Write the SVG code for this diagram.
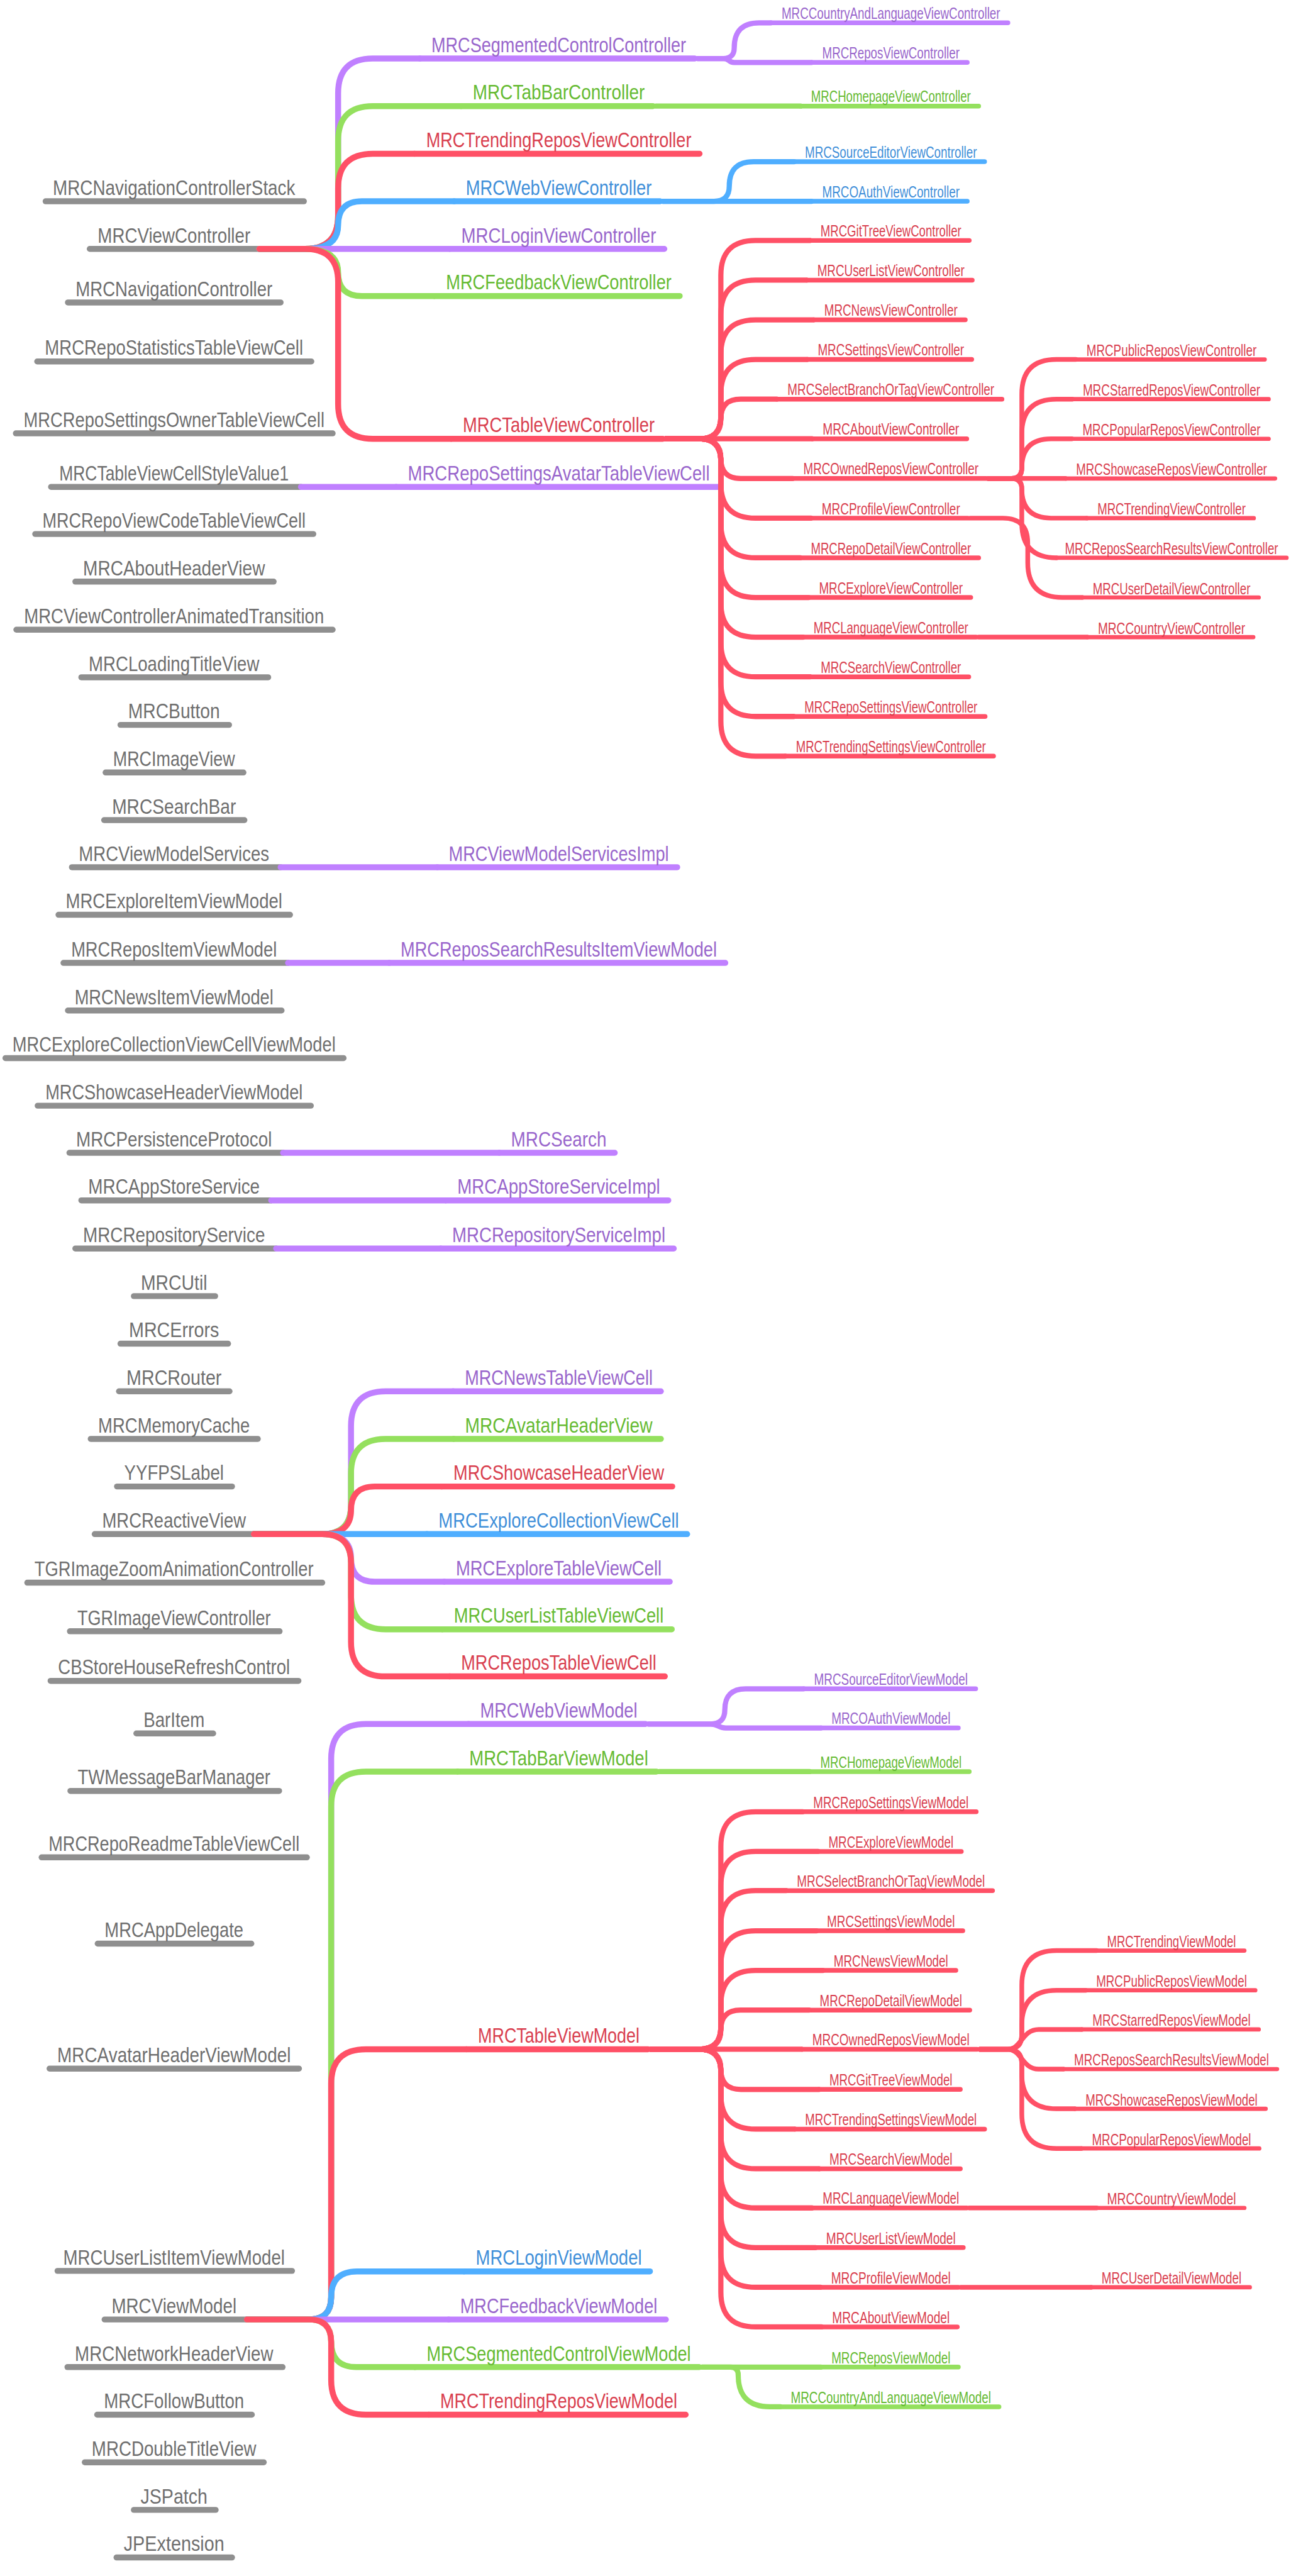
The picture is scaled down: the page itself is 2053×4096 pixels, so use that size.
<svg xmlns="http://www.w3.org/2000/svg" width="2053" height="4096" viewBox="0 0 2053 4096">
<style>
text{font-family:"Liberation Sans",Arial,sans-serif;text-anchor:middle}
.t0{font-size:42px;fill:#6f6f6f}
.t1{font-size:42px}
.t2{font-size:32px}
.tp{fill:#9966cc}.tg{fill:#66bb33}.tr{fill:#d9404f}.tb{fill:#3f8fd9}
line,path{fill:none;stroke-linecap:round;stroke-linejoin:round}
.k{stroke:#8f8f8f;stroke-width:12}
.p{stroke:#c080ff}.g{stroke:#94e05e}.r{stroke:#ff5066}.b{stroke:#4faeff}
.w1{stroke-width:12}.w2{stroke-width:9.5}.w3{stroke-width:8.5}
.c2{stroke-width:10.5}.c3{stroke-width:9.5}
</style>
<rect width="2053" height="4096" fill="#ffffff"/>
<g transform="scale(0.7884)">
<g id="roots">
<g id="n01"><line class="k" x1="92" y1="406" x2="613" y2="406"/><text class="t0" x="351" y="393" textLength="489" lengthAdjust="spacingAndGlyphs">MRCNavigationControllerStack</text></g>
<g id="n02"><line class="k" x1="181" y1="502" x2="523" y2="502"/><text class="t0" x="351" y="489" textLength="308" lengthAdjust="spacingAndGlyphs">MRCViewController</text></g>
<g id="n03"><line class="k" x1="137" y1="610" x2="566" y2="610"/><text class="t0" x="351" y="597" textLength="397" lengthAdjust="spacingAndGlyphs">MRCNavigationController</text></g>
<g id="n04"><line class="k" x1="75" y1="729" x2="628" y2="729"/><text class="t0" x="351" y="716" textLength="521" lengthAdjust="spacingAndGlyphs">MRCRepoStatisticsTableViewCell</text></g>
<g id="n05"><line class="k" x1="32" y1="874" x2="671" y2="874"/><text class="t0" x="351" y="861" textLength="607" lengthAdjust="spacingAndGlyphs">MRCRepoSettingsOwnerTableViewCell</text></g>
<g id="n06"><line class="k" x1="103" y1="982" x2="607" y2="982"/><text class="t0" x="351" y="969" textLength="463" lengthAdjust="spacingAndGlyphs">MRCTableViewCellStyleValue1</text></g>
<g id="n07"><line class="k" x1="71" y1="1077" x2="632" y2="1077"/><text class="t0" x="351" y="1064" textLength="531" lengthAdjust="spacingAndGlyphs">MRCRepoViewCodeTableViewCell</text></g>
<g id="n08"><line class="k" x1="152" y1="1173" x2="552" y2="1173"/><text class="t0" x="351" y="1160" textLength="367" lengthAdjust="spacingAndGlyphs">MRCAboutHeaderView</text></g>
<g id="n09"><line class="k" x1="33" y1="1270" x2="671" y2="1270"/><text class="t0" x="351" y="1257" textLength="605" lengthAdjust="spacingAndGlyphs">MRCViewControllerAnimatedTransition</text></g>
<g id="n10"><line class="k" x1="164" y1="1366" x2="541" y2="1366"/><text class="t0" x="351" y="1353" textLength="344" lengthAdjust="spacingAndGlyphs">MRCLoadingTitleView</text></g>
<g id="n11"><line class="k" x1="243" y1="1462" x2="462" y2="1462"/><text class="t0" x="351" y="1449" textLength="185" lengthAdjust="spacingAndGlyphs">MRCButton</text></g>
<g id="n12"><line class="k" x1="213" y1="1558" x2="491" y2="1558"/><text class="t0" x="351" y="1545" textLength="246" lengthAdjust="spacingAndGlyphs">MRCImageView</text></g>
<g id="n13"><line class="k" x1="210" y1="1654" x2="493" y2="1654"/><text class="t0" x="351" y="1641" textLength="250" lengthAdjust="spacingAndGlyphs">MRCSearchBar</text></g>
<g id="n14"><line class="k" x1="145" y1="1749" x2="566" y2="1749"/><text class="t0" x="351" y="1736" textLength="384" lengthAdjust="spacingAndGlyphs">MRCViewModelServices</text></g>
<g id="n15"><line class="k" x1="118" y1="1845" x2="585" y2="1845"/><text class="t0" x="351" y="1832" textLength="437" lengthAdjust="spacingAndGlyphs">MRCExploreItemViewModel</text></g>
<g id="n16"><line class="k" x1="128" y1="1942" x2="581" y2="1942"/><text class="t0" x="351" y="1929" textLength="415" lengthAdjust="spacingAndGlyphs">MRCReposItemViewModel</text></g>
<g id="n17"><line class="k" x1="137" y1="2038" x2="568" y2="2038"/><text class="t0" x="351" y="2025" textLength="401" lengthAdjust="spacingAndGlyphs">MRCNewsItemViewModel</text></g>
<g id="n18"><line class="k" x1="11" y1="2134" x2="693" y2="2134"/><text class="t0" x="351" y="2121" textLength="652" lengthAdjust="spacingAndGlyphs">MRCExploreCollectionViewCellViewModel</text></g>
<g id="n19"><line class="k" x1="76" y1="2230" x2="627" y2="2230"/><text class="t0" x="351" y="2217" textLength="519" lengthAdjust="spacingAndGlyphs">MRCShowcaseHeaderViewModel</text></g>
<g id="n20"><line class="k" x1="140" y1="2325" x2="571" y2="2325"/><text class="t0" x="351" y="2312" textLength="395" lengthAdjust="spacingAndGlyphs">MRCPersistenceProtocol</text></g>
<g id="n21"><line class="k" x1="164" y1="2421" x2="547" y2="2421"/><text class="t0" x="351" y="2408" textLength="346" lengthAdjust="spacingAndGlyphs">MRCAppStoreService</text></g>
<g id="n22"><line class="k" x1="152" y1="2518" x2="557" y2="2518"/><text class="t0" x="351" y="2505" textLength="367" lengthAdjust="spacingAndGlyphs">MRCRepositoryService</text></g>
<g id="n23"><line class="k" x1="270" y1="2614" x2="434" y2="2614"/><text class="t0" x="351" y="2601" textLength="134" lengthAdjust="spacingAndGlyphs">MRCUtil</text></g>
<g id="n24"><line class="k" x1="243" y1="2710" x2="460" y2="2710"/><text class="t0" x="351" y="2697" textLength="182" lengthAdjust="spacingAndGlyphs">MRCErrors</text></g>
<g id="n25"><line class="k" x1="240" y1="2806" x2="463" y2="2806"/><text class="t0" x="351" y="2793" textLength="192" lengthAdjust="spacingAndGlyphs">MRCRouter</text></g>
<g id="n26"><line class="k" x1="183" y1="2902" x2="520" y2="2902"/><text class="t0" x="351" y="2889" textLength="306" lengthAdjust="spacingAndGlyphs">MRCMemoryCache</text></g>
<g id="n27"><line class="k" x1="236" y1="2998" x2="468" y2="2998"/><text class="t0" x="351" y="2985" textLength="201" lengthAdjust="spacingAndGlyphs">YYFPSLabel</text></g>
<g id="n28"><line class="k" x1="191" y1="3094" x2="512" y2="3094"/><text class="t0" x="351" y="3081" textLength="290" lengthAdjust="spacingAndGlyphs">MRCReactiveView</text></g>
<g id="n29"><line class="k" x1="55" y1="3192" x2="650" y2="3192"/><text class="t0" x="351" y="3179" textLength="563" lengthAdjust="spacingAndGlyphs">TGRImageZoomAnimationController</text></g>
<g id="n30"><line class="k" x1="141" y1="3290" x2="564" y2="3290"/><text class="t0" x="351" y="3277" textLength="390" lengthAdjust="spacingAndGlyphs">TGRImageViewController</text></g>
<g id="n31"><line class="k" x1="102" y1="3390" x2="602" y2="3390"/><text class="t0" x="351" y="3377" textLength="468" lengthAdjust="spacingAndGlyphs">CBStoreHouseRefreshControl</text></g>
<g id="n32"><line class="k" x1="275" y1="3496" x2="430" y2="3496"/><text class="t0" x="351" y="3483" textLength="123" lengthAdjust="spacingAndGlyphs">BarItem</text></g>
<g id="n33"><line class="k" x1="142" y1="3612" x2="563" y2="3612"/><text class="t0" x="351" y="3599" textLength="389" lengthAdjust="spacingAndGlyphs">TWMessageBarManager</text></g>
<g id="n34"><line class="k" x1="84" y1="3746" x2="619" y2="3746"/><text class="t0" x="351" y="3733" textLength="506" lengthAdjust="spacingAndGlyphs">MRCRepoReadmeTableViewCell</text></g>
<g id="n35"><line class="k" x1="197" y1="3920" x2="507" y2="3920"/><text class="t0" x="351" y="3907" textLength="280" lengthAdjust="spacingAndGlyphs">MRCAppDelegate</text></g>
<g id="n36"><line class="k" x1="100" y1="4172" x2="603" y2="4172"/><text class="t0" x="351" y="4159" textLength="471" lengthAdjust="spacingAndGlyphs">MRCAvatarHeaderViewModel</text></g>
<g id="n37"><line class="k" x1="116" y1="4580" x2="589" y2="4580"/><text class="t0" x="351" y="4567" textLength="447" lengthAdjust="spacingAndGlyphs">MRCUserListItemViewModel</text></g>
<g id="n38"><line class="k" x1="211" y1="4678" x2="498" y2="4678"/><text class="t0" x="351" y="4665" textLength="252" lengthAdjust="spacingAndGlyphs">MRCViewModel</text></g>
<g id="n39"><line class="k" x1="136" y1="4774" x2="570" y2="4774"/><text class="t0" x="351" y="4761" textLength="400" lengthAdjust="spacingAndGlyphs">MRCNetworkHeaderView</text></g>
<g id="n40"><line class="k" x1="196" y1="4870" x2="508" y2="4870"/><text class="t0" x="351" y="4857" textLength="283" lengthAdjust="spacingAndGlyphs">MRCFollowButton</text></g>
<g id="n41"><line class="k" x1="171" y1="4966" x2="532" y2="4966"/><text class="t0" x="351" y="4953" textLength="332" lengthAdjust="spacingAndGlyphs">MRCDoubleTitleView</text></g>
<g id="n42"><line class="k" x1="270" y1="5062" x2="435" y2="5062"/><text class="t0" x="351" y="5049" textLength="135" lengthAdjust="spacingAndGlyphs">JSPatch</text></g>
<g id="n43"><line class="k" x1="235" y1="5158" x2="468" y2="5158"/><text class="t0" x="351" y="5145" textLength="203" lengthAdjust="spacingAndGlyphs">JPExtension</text></g>
</g>
<g id="level1">
<g id="a01"><line class="p w1" x1="847" y1="118" x2="1401" y2="118"/><text class="t1 tp" x="1127" y="105" textLength="514" lengthAdjust="spacingAndGlyphs">MRCSegmentedControlController</text></g>
<g id="a02"><line class="g w1" x1="930" y1="214" x2="1317" y2="214"/><text class="t1 tg" x="1127" y="201" textLength="347" lengthAdjust="spacingAndGlyphs">MRCTabBarController</text></g>
<g id="a03"><line class="r w1" x1="836" y1="310" x2="1411" y2="310"/><text class="t1 tr" x="1127" y="297" textLength="535" lengthAdjust="spacingAndGlyphs">MRCTrendingReposViewController</text></g>
<g id="a04"><line class="b w1" x1="916" y1="406" x2="1331" y2="406"/><text class="t1 tb" x="1127" y="393" textLength="375" lengthAdjust="spacingAndGlyphs">MRCWebViewController</text></g>
<g id="a05"><line class="p w1" x1="907" y1="502" x2="1340" y2="502"/><text class="t1 tp" x="1127" y="489" textLength="393" lengthAdjust="spacingAndGlyphs">MRCLoginViewController</text></g>
<g id="a06"><line class="g w1" x1="876" y1="597" x2="1371" y2="597"/><text class="t1 tg" x="1127" y="584" textLength="455" lengthAdjust="spacingAndGlyphs">MRCFeedbackViewController</text></g>
<g id="a07"><line class="r w1" x1="910" y1="885" x2="1337" y2="885"/><text class="t1 tr" x="1127" y="872" textLength="387" lengthAdjust="spacingAndGlyphs">MRCTableViewController</text></g>
<g id="a08"><line class="p w1" x1="799" y1="982" x2="1448" y2="982"/><text class="t1 tp" x="1127" y="969" textLength="609" lengthAdjust="spacingAndGlyphs">MRCRepoSettingsAvatarTableViewCell</text></g>
<g id="a09"><line class="p w1" x1="882" y1="1749" x2="1366" y2="1749"/><text class="t1 tp" x="1127" y="1736" textLength="444" lengthAdjust="spacingAndGlyphs">MRCViewModelServicesImpl</text></g>
<g id="a10"><line class="p w1" x1="785" y1="1942" x2="1463" y2="1942"/><text class="t1 tp" x="1127" y="1929" textLength="638" lengthAdjust="spacingAndGlyphs">MRCReposSearchResultsItemViewModel</text></g>
<g id="a11"><line class="p w1" x1="1007" y1="2325" x2="1240" y2="2325"/><text class="t1 tp" x="1127" y="2312" textLength="193" lengthAdjust="spacingAndGlyphs">MRCSearch</text></g>
<g id="a12"><line class="p w1" x1="899" y1="2421" x2="1348" y2="2421"/><text class="t1 tp" x="1127" y="2408" textLength="409" lengthAdjust="spacingAndGlyphs">MRCAppStoreServiceImpl</text></g>
<g id="a13"><line class="p w1" x1="889" y1="2518" x2="1359" y2="2518"/><text class="t1 tp" x="1127" y="2505" textLength="430" lengthAdjust="spacingAndGlyphs">MRCRepositoryServiceImpl</text></g>
<g id="a14"><line class="p w1" x1="914" y1="2806" x2="1333" y2="2806"/><text class="t1 tp" x="1127" y="2793" textLength="379" lengthAdjust="spacingAndGlyphs">MRCNewsTableViewCell</text></g>
<g id="a15"><line class="g w1" x1="915" y1="2902" x2="1333" y2="2902"/><text class="t1 tg" x="1127" y="2889" textLength="378" lengthAdjust="spacingAndGlyphs">MRCAvatarHeaderView</text></g>
<g id="a16"><line class="r w1" x1="891" y1="2998" x2="1356" y2="2998"/><text class="t1 tr" x="1127" y="2985" textLength="425" lengthAdjust="spacingAndGlyphs">MRCShowcaseHeaderView</text></g>
<g id="a17"><line class="b w1" x1="861" y1="3094" x2="1386" y2="3094"/><text class="t1 tb" x="1127" y="3081" textLength="485" lengthAdjust="spacingAndGlyphs">MRCExploreCollectionViewCell</text></g>
<g id="a18"><line class="p w1" x1="896" y1="3190" x2="1351" y2="3190"/><text class="t1 tp" x="1127" y="3177" textLength="415" lengthAdjust="spacingAndGlyphs">MRCExploreTableViewCell</text></g>
<g id="a19"><line class="g w1" x1="892" y1="3286" x2="1355" y2="3286"/><text class="t1 tg" x="1127" y="3273" textLength="423" lengthAdjust="spacingAndGlyphs">MRCUserListTableViewCell</text></g>
<g id="a20"><line class="r w1" x1="907" y1="3381" x2="1341" y2="3381"/><text class="t1 tr" x="1127" y="3368" textLength="394" lengthAdjust="spacingAndGlyphs">MRCReposTableViewCell</text></g>
<g id="a21"><line class="p w1" x1="945" y1="3477" x2="1302" y2="3477"/><text class="t1 tp" x="1127" y="3464" textLength="317" lengthAdjust="spacingAndGlyphs">MRCWebViewModel</text></g>
<g id="a22"><line class="g w1" x1="923" y1="3573" x2="1324" y2="3573"/><text class="t1 tg" x="1127" y="3560" textLength="361" lengthAdjust="spacingAndGlyphs">MRCTabBarViewModel</text></g>
<g id="a23"><line class="r w1" x1="941" y1="4133" x2="1307" y2="4133"/><text class="t1 tr" x="1127" y="4120" textLength="326" lengthAdjust="spacingAndGlyphs">MRCTableViewModel</text></g>
<g id="a24"><line class="b w1" x1="936" y1="4581" x2="1311" y2="4581"/><text class="t1 tb" x="1127" y="4568" textLength="335" lengthAdjust="spacingAndGlyphs">MRCLoginViewModel</text></g>
<g id="a25"><line class="p w1" x1="905" y1="4678" x2="1343" y2="4678"/><text class="t1 tp" x="1127" y="4665" textLength="398" lengthAdjust="spacingAndGlyphs">MRCFeedbackViewModel</text></g>
<g id="a26"><line class="g w1" x1="837" y1="4774" x2="1410" y2="4774"/><text class="t1 tg" x="1127" y="4761" textLength="533" lengthAdjust="spacingAndGlyphs">MRCSegmentedControlViewModel</text></g>
<g id="a27"><line class="r w1" x1="865" y1="4870" x2="1383" y2="4870"/><text class="t1 tr" x="1127" y="4857" textLength="478" lengthAdjust="spacingAndGlyphs">MRCTrendingReposViewModel</text></g>
</g>
<g id="level2">
<g id="b01"><line class="p w2" x1="1555" y1="46" x2="2033" y2="46"/><text class="t2 tp" x="1797" y="38" textLength="441" lengthAdjust="spacingAndGlyphs">MRCCountryAndLanguageViewController</text></g>
<g id="b02"><line class="p w2" x1="1637" y1="126" x2="1951" y2="126"/><text class="t2 tp" x="1797" y="118" textLength="277" lengthAdjust="spacingAndGlyphs">MRCReposViewController</text></g>
<g id="b03"><line class="g w2" x1="1615" y1="214" x2="1974" y2="214"/><text class="t2 tg" x="1797" y="206" textLength="322" lengthAdjust="spacingAndGlyphs">MRCHomepageViewController</text></g>
<g id="b04"><line class="b w2" x1="1602" y1="326" x2="1986" y2="326"/><text class="t2 tb" x="1797" y="318" textLength="347" lengthAdjust="spacingAndGlyphs">MRCSourceEditorViewController</text></g>
<g id="b05"><line class="b w2" x1="1637" y1="406" x2="1951" y2="406"/><text class="t2 tb" x="1797" y="398" textLength="277" lengthAdjust="spacingAndGlyphs">MRCOAuthViewController</text></g>
<g id="b06"><line class="r w2" x1="1634" y1="485" x2="1955" y2="485"/><text class="t2 tr" x="1797" y="477" textLength="284" lengthAdjust="spacingAndGlyphs">MRCGitTreeViewController</text></g>
<g id="b07"><line class="r w2" x1="1627" y1="565" x2="1961" y2="565"/><text class="t2 tr" x="1797" y="557" textLength="297" lengthAdjust="spacingAndGlyphs">MRCUserListViewController</text></g>
<g id="b08"><line class="r w2" x1="1641" y1="645" x2="1947" y2="645"/><text class="t2 tr" x="1797" y="637" textLength="269" lengthAdjust="spacingAndGlyphs">MRCNewsViewController</text></g>
<g id="b09"><line class="r w2" x1="1628" y1="725" x2="1960" y2="725"/><text class="t2 tr" x="1797" y="717" textLength="295" lengthAdjust="spacingAndGlyphs">MRCSettingsViewController</text></g>
<g id="b10"><line class="r w2" x1="1567" y1="805" x2="2021" y2="805"/><text class="t2 tr" x="1797" y="797" textLength="417" lengthAdjust="spacingAndGlyphs">MRCSelectBranchOrTagViewController</text></g>
<g id="b11"><line class="r w2" x1="1638" y1="885" x2="1950" y2="885"/><text class="t2 tr" x="1797" y="877" textLength="275" lengthAdjust="spacingAndGlyphs">MRCAboutViewController</text></g>
<g id="b12"><line class="r w2" x1="1599" y1="965" x2="1989" y2="965"/><text class="t2 tr" x="1797" y="957" textLength="353" lengthAdjust="spacingAndGlyphs">MRCOwnedReposViewController</text></g>
<g id="b13"><line class="r w2" x1="1636" y1="1045" x2="1952" y2="1045"/><text class="t2 tr" x="1797" y="1037" textLength="279" lengthAdjust="spacingAndGlyphs">MRCProfileViewController</text></g>
<g id="b14"><line class="r w2" x1="1614" y1="1125" x2="1974" y2="1125"/><text class="t2 tr" x="1797" y="1117" textLength="323" lengthAdjust="spacingAndGlyphs">MRCRepoDetailViewController</text></g>
<g id="b15"><line class="r w2" x1="1631" y1="1205" x2="1958" y2="1205"/><text class="t2 tr" x="1797" y="1197" textLength="290" lengthAdjust="spacingAndGlyphs">MRCExploreViewController</text></g>
<g id="b16"><line class="r w2" x1="1620" y1="1285" x2="1969" y2="1285"/><text class="t2 tr" x="1797" y="1277" textLength="312" lengthAdjust="spacingAndGlyphs">MRCLanguageViewController</text></g>
<g id="b17"><line class="r w2" x1="1634" y1="1365" x2="1954" y2="1365"/><text class="t2 tr" x="1797" y="1357" textLength="283" lengthAdjust="spacingAndGlyphs">MRCSearchViewController</text></g>
<g id="b18"><line class="r w2" x1="1601" y1="1445" x2="1987" y2="1445"/><text class="t2 tr" x="1797" y="1437" textLength="349" lengthAdjust="spacingAndGlyphs">MRCRepoSettingsViewController</text></g>
<g id="b19"><line class="r w2" x1="1584" y1="1525" x2="2004" y2="1525"/><text class="t2 tr" x="1797" y="1517" textLength="383" lengthAdjust="spacingAndGlyphs">MRCTrendingSettingsViewController</text></g>
<g id="b20"><line class="p w2" x1="1621" y1="3406" x2="1968" y2="3406"/><text class="t2 tp" x="1797" y="3398" textLength="310" lengthAdjust="spacingAndGlyphs">MRCSourceEditorViewModel</text></g>
<g id="b21"><line class="p w2" x1="1656" y1="3485" x2="1933" y2="3485"/><text class="t2 tp" x="1797" y="3477" textLength="240" lengthAdjust="spacingAndGlyphs">MRCOAuthViewModel</text></g>
<g id="b22"><line class="g w2" x1="1633" y1="3573" x2="1955" y2="3573"/><text class="t2 tg" x="1797" y="3565" textLength="285" lengthAdjust="spacingAndGlyphs">MRCHomepageViewModel</text></g>
<g id="b23"><line class="r w2" x1="1619" y1="3654" x2="1969" y2="3654"/><text class="t2 tr" x="1797" y="3646" textLength="313" lengthAdjust="spacingAndGlyphs">MRCRepoSettingsViewModel</text></g>
<g id="b24"><line class="r w2" x1="1650" y1="3734" x2="1939" y2="3734"/><text class="t2 tr" x="1797" y="3726" textLength="252" lengthAdjust="spacingAndGlyphs">MRCExploreViewModel</text></g>
<g id="b25"><line class="r w2" x1="1586" y1="3813" x2="2002" y2="3813"/><text class="t2 tr" x="1797" y="3805" textLength="379" lengthAdjust="spacingAndGlyphs">MRCSelectBranchOrTagViewModel</text></g>
<g id="b26"><line class="r w2" x1="1647" y1="3894" x2="1942" y2="3894"/><text class="t2 tr" x="1797" y="3886" textLength="258" lengthAdjust="spacingAndGlyphs">MRCSettingsViewModel</text></g>
<g id="b27"><line class="r w2" x1="1660" y1="3974" x2="1928" y2="3974"/><text class="t2 tr" x="1797" y="3966" textLength="231" lengthAdjust="spacingAndGlyphs">MRCNewsViewModel</text></g>
<g id="b28"><line class="r w2" x1="1632" y1="4054" x2="1956" y2="4054"/><text class="t2 tr" x="1797" y="4046" textLength="287" lengthAdjust="spacingAndGlyphs">MRCRepoDetailViewModel</text></g>
<g id="b29"><line class="r w2" x1="1617" y1="4133" x2="1971" y2="4133"/><text class="t2 tr" x="1797" y="4125" textLength="317" lengthAdjust="spacingAndGlyphs">MRCOwnedReposViewModel</text></g>
<g id="b30"><line class="r w2" x1="1652" y1="4214" x2="1937" y2="4214"/><text class="t2 tr" x="1797" y="4206" textLength="248" lengthAdjust="spacingAndGlyphs">MRCGitTreeViewModel</text></g>
<g id="b31"><line class="r w2" x1="1603" y1="4294" x2="1986" y2="4294"/><text class="t2 tr" x="1797" y="4286" textLength="346" lengthAdjust="spacingAndGlyphs">MRCTrendingSettingsViewModel</text></g>
<g id="b32"><line class="r w2" x1="1652" y1="4374" x2="1937" y2="4374"/><text class="t2 tr" x="1797" y="4366" textLength="248" lengthAdjust="spacingAndGlyphs">MRCSearchViewModel</text></g>
<g id="b33"><line class="r w2" x1="1638" y1="4453" x2="1950" y2="4453"/><text class="t2 tr" x="1797" y="4445" textLength="275" lengthAdjust="spacingAndGlyphs">MRCLanguageViewModel</text></g>
<g id="b34"><line class="r w2" x1="1645" y1="4533" x2="1943" y2="4533"/><text class="t2 tr" x="1797" y="4525" textLength="261" lengthAdjust="spacingAndGlyphs">MRCUserListViewModel</text></g>
<g id="b35"><line class="r w2" x1="1655" y1="4613" x2="1933" y2="4613"/><text class="t2 tr" x="1797" y="4605" textLength="241" lengthAdjust="spacingAndGlyphs">MRCProfileViewModel</text></g>
<g id="b36"><line class="r w2" x1="1657" y1="4693" x2="1931" y2="4693"/><text class="t2 tr" x="1797" y="4685" textLength="237" lengthAdjust="spacingAndGlyphs">MRCAboutViewModel</text></g>
<g id="b37"><line class="g w2" x1="1656" y1="4774" x2="1933" y2="4774"/><text class="t2 tg" x="1797" y="4766" textLength="240" lengthAdjust="spacingAndGlyphs">MRCReposViewModel</text></g>
<g id="b38"><line class="g w2" x1="1574" y1="4854" x2="2015" y2="4854"/><text class="t2 tg" x="1797" y="4846" textLength="404" lengthAdjust="spacingAndGlyphs">MRCCountryAndLanguageViewModel</text></g>
</g>
<g id="level3">
<g id="d01"><line class="r w3" x1="2170" y1="725" x2="2551" y2="725"/><text class="t2 tr" transform="translate(2363,718) scale(0.7,1)" textLength="490" lengthAdjust="spacingAndGlyphs">MRCPublicReposViewController</text></g>
<g id="d02"><line class="r w3" x1="2163" y1="805" x2="2559" y2="805"/><text class="t2 tr" transform="translate(2363,798) scale(0.7,1)" textLength="511.4" lengthAdjust="spacingAndGlyphs">MRCStarredReposViewController</text></g>
<g id="d03"><line class="r w3" x1="2162" y1="885" x2="2559" y2="885"/><text class="t2 tr" transform="translate(2363,878) scale(0.7,1)" textLength="512.9" lengthAdjust="spacingAndGlyphs">MRCPopularReposViewController</text></g>
<g id="d04"><line class="r w3" x1="2149" y1="965" x2="2572" y2="965"/><text class="t2 tr" transform="translate(2363,958) scale(0.7,1)" textLength="550" lengthAdjust="spacingAndGlyphs">MRCShowcaseReposViewController</text></g>
<g id="d05"><line class="r w3" x1="2192" y1="1045" x2="2529" y2="1045"/><text class="t2 tr" transform="translate(2363,1038) scale(0.7,1)" textLength="427.1" lengthAdjust="spacingAndGlyphs">MRCTrendingViewController</text></g>
<g id="d06"><line class="r w3" x1="2131" y1="1125" x2="2595" y2="1125"/><text class="t2 tr" transform="translate(2363,1118) scale(0.7,1)" textLength="614.3" lengthAdjust="spacingAndGlyphs">MRCReposSearchResultsViewController</text></g>
<g id="d07"><line class="r w3" x1="2183" y1="1205" x2="2539" y2="1205"/><text class="t2 tr" transform="translate(2363,1198) scale(0.7,1)" textLength="454.3" lengthAdjust="spacingAndGlyphs">MRCUserDetailViewController</text></g>
<g id="d08"><line class="r w3" x1="2193" y1="1285" x2="2528" y2="1285"/><text class="t2 tr" transform="translate(2363,1278) scale(0.7,1)" textLength="424.3" lengthAdjust="spacingAndGlyphs">MRCCountryViewController</text></g>
<g id="d09"><line class="r w3" x1="2212" y1="3934" x2="2510" y2="3934"/><text class="t2 tr" transform="translate(2363,3927) scale(0.7,1)" textLength="371.4" lengthAdjust="spacingAndGlyphs">MRCTrendingViewModel</text></g>
<g id="d10"><line class="r w3" x1="2190" y1="4014" x2="2532" y2="4014"/><text class="t2 tr" transform="translate(2363,4007) scale(0.7,1)" textLength="434.3" lengthAdjust="spacingAndGlyphs">MRCPublicReposViewModel</text></g>
<g id="d11"><line class="r w3" x1="2182" y1="4093" x2="2539" y2="4093"/><text class="t2 tr" transform="translate(2363,4086) scale(0.7,1)" textLength="455.7" lengthAdjust="spacingAndGlyphs">MRCStarredReposViewModel</text></g>
<g id="d12"><line class="r w3" x1="2145" y1="4173" x2="2576" y2="4173"/><text class="t2 tr" transform="translate(2363,4166) scale(0.7,1)" textLength="561.4" lengthAdjust="spacingAndGlyphs">MRCReposSearchResultsViewModel</text></g>
<g id="d13"><line class="r w3" x1="2168" y1="4253" x2="2553" y2="4253"/><text class="t2 tr" transform="translate(2363,4246) scale(0.7,1)" textLength="495.7" lengthAdjust="spacingAndGlyphs">MRCShowcaseReposViewModel</text></g>
<g id="d14"><line class="r w3" x1="2181" y1="4333" x2="2540" y2="4333"/><text class="t2 tr" transform="translate(2363,4326) scale(0.7,1)" textLength="458.6" lengthAdjust="spacingAndGlyphs">MRCPopularReposViewModel</text></g>
<g id="d15"><line class="r w3" x1="2212" y1="4453" x2="2510" y2="4453"/><text class="t2 tr" transform="translate(2363,4446) scale(0.7,1)" textLength="371.4" lengthAdjust="spacingAndGlyphs">MRCCountryViewModel</text></g>
<g id="d16"><line class="r w3" x1="2201" y1="4613" x2="2521" y2="4613"/><text class="t2 tr" transform="translate(2363,4606) scale(0.7,1)" textLength="402.9" lengthAdjust="spacingAndGlyphs">MRCUserDetailViewModel</text></g>
</g>
<g id="connectors">
<path class="p w1" d="M523,502 H615 Q682,502 682,435 V188 Q682,118 752,118 H847"/>
<path class="g w1" d="M523,502 H615 Q682,502 682,435 V284 Q682,214 752,214 H930"/>
<path class="r w1" d="M523,502 H615 Q682,502 682,435 V380 Q682,310 752,310 H836"/>
<path class="b w1" d="M523,502 H615 Q682,502 682,454 Q682,406 730,406 H916"/>
<path class="p w1" d="M523,502 H907"/>
<path class="g w1" d="M523,502 H615 Q682,502 682,549.5 Q682,597 729.5,597 H876"/>
<path class="r w1" d="M523,502 H615 Q682,502 682,569 V815 Q682,885 752,885 H910"/>
<path class="p c2" d="M1407,118 H1459 Q1481,118 1481,96 Q1481,46 1531,46 H1555"/>
<path class="p c2" d="M1407,118 H1459 C1472,118 1468,126 1481,126 H1637"/>
<path class="g c2" d="M1323,214 H1615"/>
<path class="b c2" d="M1337,406 H1440 Q1471,406 1471,375 Q1471,326 1520,326 H1602"/>
<path class="b c2" d="M1337,406 H1637"/>
<path class="r c2" d="M1343,885 H1410 Q1454,885 1454,841 V555 Q1454,485 1524,485 H1634"/>
<path class="r c2" d="M1343,885 H1410 Q1454,885 1454,841 V635 Q1454,565 1524,565 H1627"/>
<path class="r c2" d="M1343,885 H1410 Q1454,885 1454,841 V715 Q1454,645 1524,645 H1641"/>
<path class="r c2" d="M1343,885 H1410 Q1454,885 1454,841 V795 Q1454,725 1524,725 H1628"/>
<path class="r c2" d="M1343,885 H1410 Q1454,885 1454,845 Q1454,805 1494,805 H1567"/>
<path class="r c2" d="M1343,885 H1638"/>
<path class="r c2" d="M1343,885 H1410 Q1454,885 1454,925 Q1454,965 1494,965 H1599"/>
<path class="r c2" d="M1343,885 H1410 Q1454,885 1454,929 V975 Q1454,1045 1524,1045 H1636"/>
<path class="r c2" d="M1343,885 H1410 Q1454,885 1454,929 V1055 Q1454,1125 1524,1125 H1614"/>
<path class="r c2" d="M1343,885 H1410 Q1454,885 1454,929 V1135 Q1454,1205 1524,1205 H1631"/>
<path class="r c2" d="M1343,885 H1410 Q1454,885 1454,929 V1215 Q1454,1285 1524,1285 H1620"/>
<path class="r c2" d="M1343,885 H1410 Q1454,885 1454,929 V1295 Q1454,1365 1524,1365 H1634"/>
<path class="r c2" d="M1343,885 H1410 Q1454,885 1454,929 V1375 Q1454,1445 1524,1445 H1601"/>
<path class="r c2" d="M1343,885 H1410 Q1454,885 1454,929 V1455 Q1454,1525 1524,1525 H1584"/>
<path class="r c3" d="M1994,965 H2040 Q2061,965 2061,944 V795 Q2061,725 2131,725 H2170"/>
<path class="r c3" d="M1994,965 H2040 Q2061,965 2061,944 V875 Q2061,805 2131,805 H2163"/>
<path class="r c3" d="M1994,965 H2040 Q2061,965 2061,944 Q2061,885 2120,885 H2162"/>
<path class="r c3" d="M1994,965 H2149"/>
<path class="r c3" d="M1994,965 H2040 Q2061,965 2061,986 Q2061,1045 2120,1045 H2192"/>
<path class="r c3" d="M1994,965 H2040 Q2061,965 2061,986 V1055 Q2061,1125 2131,1125"/>
<path class="r c3" d="M1957,1045 H2023 Q2073,1045 2073,1095 V1135 Q2073,1205 2143,1205 H2183"/>
<path class="r c3" d="M1974,1285 H2193"/>
<path class="p w1" d="M607,982 H799"/>
<path class="p w1" d="M566,1749 H882"/>
<path class="p w1" d="M581,1942 H785"/>
<path class="p w1" d="M571,2325 H1007"/>
<path class="p w1" d="M547,2421 H899"/>
<path class="p w1" d="M557,2518 H889"/>
<path class="p w1" d="M512,3094 H650 Q708,3094 708,3036 V2876 Q708,2806 778,2806 H914"/>
<path class="g w1" d="M512,3094 H650 Q708,3094 708,3036 V2972 Q708,2902 778,2902 H915"/>
<path class="r w1" d="M512,3094 H650 Q708,3094 708,3046 Q708,2998 756,2998 H891"/>
<path class="b w1" d="M512,3094 H861"/>
<path class="p w1" d="M512,3094 H650 Q708,3094 708,3142 Q708,3190 756,3190 H896"/>
<path class="g w1" d="M512,3094 H650 Q708,3094 708,3152 V3216 Q708,3286 778,3286 H892"/>
<path class="r w1" d="M512,3094 H650 Q708,3094 708,3152 V3311 Q708,3381 778,3381 H907"/>
<path class="p w1" d="M498,4678 H623 Q668,4678 668,4633 V3547 Q668,3477 738,3477 H945"/>
<path class="g w1" d="M498,4678 H623 Q668,4678 668,4633 V3643 Q668,3573 738,3573 H923"/>
<path class="r w1" d="M498,4678 H623 Q668,4678 668,4633 V4203 Q668,4133 738,4133 H941"/>
<path class="b w1" d="M498,4678 H623 Q668,4678 668,4633 Q668,4581 720,4581 H936"/>
<path class="p w1" d="M498,4678 H905"/>
<path class="g w1" d="M498,4678 H623 Q668,4678 668,4723 Q668,4774 719,4774 H837"/>
<path class="r w1" d="M498,4678 H623 Q668,4678 668,4723 V4800 Q668,4870 738,4870 H865"/>
<path class="p c2" d="M1308,3477 H1433 Q1462,3477 1462,3448 Q1462,3406 1504,3406 H1621"/>
<path class="p c2" d="M1308,3477 H1433 C1450,3477 1447,3485 1464,3485 H1656"/>
<path class="g c2" d="M1330,3573 H1633"/>
<path class="r c2" d="M1313,4133 H1410 Q1454,4133 1454,4089 V3724 Q1454,3654 1524,3654 H1619"/>
<path class="r c2" d="M1313,4133 H1410 Q1454,4133 1454,4089 V3804 Q1454,3734 1524,3734 H1650"/>
<path class="r c2" d="M1313,4133 H1410 Q1454,4133 1454,4089 V3883 Q1454,3813 1524,3813 H1586"/>
<path class="r c2" d="M1313,4133 H1410 Q1454,4133 1454,4089 V3964 Q1454,3894 1524,3894 H1647"/>
<path class="r c2" d="M1313,4133 H1410 Q1454,4133 1454,4089 V4044 Q1454,3974 1524,3974 H1660"/>
<path class="r c2" d="M1313,4133 H1410 Q1454,4133 1454,4093.5 Q1454,4054 1493.5,4054 H1632"/>
<path class="r c2" d="M1313,4133 H1617"/>
<path class="r c2" d="M1313,4133 H1410 Q1454,4133 1454,4173.5 Q1454,4214 1494.5,4214 H1652"/>
<path class="r c2" d="M1313,4133 H1410 Q1454,4133 1454,4177 V4224 Q1454,4294 1524,4294 H1603"/>
<path class="r c2" d="M1313,4133 H1410 Q1454,4133 1454,4177 V4304 Q1454,4374 1524,4374 H1652"/>
<path class="r c2" d="M1313,4133 H1410 Q1454,4133 1454,4177 V4383 Q1454,4453 1524,4453 H1638"/>
<path class="r c2" d="M1313,4133 H1410 Q1454,4133 1454,4177 V4463 Q1454,4533 1524,4533 H1645"/>
<path class="r c2" d="M1313,4133 H1410 Q1454,4133 1454,4177 V4543 Q1454,4613 1524,4613 H1655"/>
<path class="r c2" d="M1313,4133 H1410 Q1454,4133 1454,4177 V4623 Q1454,4693 1524,4693 H1657"/>
<path class="r c3" d="M1976,4133 H2032 Q2061,4133 2061,4104 V4004 Q2061,3934 2131,3934 H2212"/>
<path class="r c3" d="M1976,4133 H2032 Q2061,4133 2061,4104 V4084 Q2061,4014 2131,4014 H2190"/>
<path class="r c3" d="M1976,4133 H2032 C2061,4133 2061,4093 2095,4093 H2182"/>
<path class="r c3" d="M1976,4133 H2032 C2061,4133 2061,4173 2095,4173 H2145"/>
<path class="r c3" d="M1976,4133 H2032 Q2061,4133 2061,4162 V4183 Q2061,4253 2131,4253 H2168"/>
<path class="r c3" d="M1976,4133 H2032 Q2061,4133 2061,4162 V4263 Q2061,4333 2131,4333 H2181"/>
<path class="r c3" d="M1955,4453 H2212"/>
<path class="r c3" d="M1938,4613 H2201"/>
<path class="g c2" d="M1416,4774 H1656"/>
<path class="g c2" d="M1416,4774 H1473 Q1489,4774 1489,4790 Q1489,4854 1553,4854 H1574"/>
</g>
</g>
</svg>
